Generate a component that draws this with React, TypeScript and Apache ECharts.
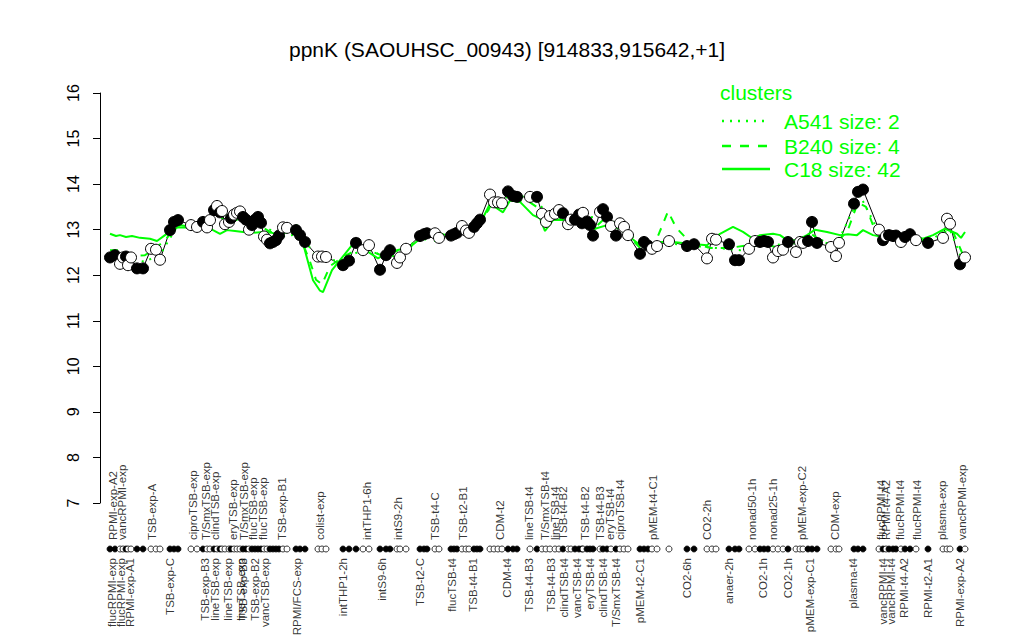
import React, { useEffect, useRef } from "react";
import * as echarts from "echarts";

const FONT = "'Liberation Sans', Arial, Helvetica, sans-serif";
const GREEN = "#00FF00";

const titleText = "ppnK (SAOUHSC_00943) [914833,915642,+1]";
const legendTitle = "clusters";
const legendNames = ["A541 size: 2", "B240 size: 4", "C18 size: 42"];

// sample positions along the x axis, expression values, filled (1) / open (0)
const samplePos = [
  10, 15, 20, 23, 26, 28, 31, 37, 43,
  51, 56, 60,
  70, 74, 78,
  91, 97,
  103, 107, 110, 114, 117, 120, 122, 125, 129, 131, 134, 137, 140, 143, 146, 149, 152, 155, 158, 161, 164, 167, 170, 173, 176, 179, 183, 187,
  196, 200, 205,
  218, 222, 226,
  243, 249, 256, 263, 269,
  280, 286, 290,
  297, 300, 306,
  320, 324, 327,
  335, 339,
  351, 354, 357,
  362, 366, 369,
  374, 377, 380,
  390, 394, 398, 402,
  408, 413, 417,
  430, 437,
  442, 446, 450, 455, 459, 463, 468, 471, 475, 479, 482, 483, 487, 490, 493, 500, 503, 507, 511, 516, 520, 524, 528,
  540, 544, 548, 552, 557,
  569,
  587, 594,
  607, 612, 616,
  629, 635, 639,
  649, 655, 660, 664, 668,
  673, 678, 683, 688,
  696, 700, 703, 708, 712, 717,
  731, 736, 739,
  754, 758, 763,
  779, 783, 786, 789, 793, 796, 801, 805, 810, 816,
  828,
  843, 847, 850,
  860, 865,
];
const sampleVal = [
  12.39, 12.44, 12.25, 12.39, 12.41, 12.22, 12.39, 12.15, 12.15,
  12.58, 12.56, 12.34,
  12.99, 13.17, 13.21,
  13.10, 13.06,
  13.17, 13.05, 13.21, 13.43, 13.52, 13.38, 13.41, 13.12, 13.17, 13.25, 13.33, 13.37, 13.40, 13.28, 13.22, 13.00, 13.10, 13.22, 13.28, 13.15, 12.85, 12.78, 12.70, 12.73, 12.77, 12.87, 13.05, 13.04,
  12.99, 12.88, 12.73,
  12.41, 12.41, 12.40,
  12.22, 12.32, 12.71, 12.55, 12.66,
  12.12, 12.44, 12.55,
  12.27, 12.39, 12.58,
  12.86, 12.90, 12.92,
  12.92, 12.82,
  12.87, 12.90, 12.93,
  13.08, 12.98, 12.93,
  13.06, 13.14, 13.22,
  13.77, 13.60, 13.60, 13.58,
  13.84, 13.74, 13.72,
  13.72, 13.72,
  13.35, 13.17, 13.30, 13.35, 13.43, 13.36, 13.12, 13.22, 13.22, 13.33, 13.14, 13.37, 13.18, 13.10, 12.87, 13.39, 13.45, 13.28, 13.08, 12.87, 13.14, 13.06, 12.88,
  12.47, 12.73, 12.65, 12.58, 12.64,
  12.75,
  12.64, 12.68,
  12.37, 12.80, 12.78,
  12.68, 12.33, 12.33,
  12.58, 12.75, 12.73, 12.75, 12.73,
  12.39, 12.53, 12.56, 12.73,
  12.51, 12.73, 12.71, 12.75, 13.17, 12.71,
  12.62, 12.42, 12.71,
  13.57, 13.83, 13.88,
  13.00, 12.77, 12.86, 12.88, 12.86, 12.87, 12.73, 12.84, 12.90, 12.77,
  12.71,
  12.82, 13.24, 13.13,
  12.24, 12.39,
];
const sampleFilled = [
  1, 1, 0, 0, 1, 0, 0, 1, 1,
  0, 0, 0,
  1, 1, 1,
  0, 0,
  1, 0, 0, 1, 0, 1, 0, 0, 0, 1, 0, 0, 0, 1, 1, 0, 1, 1, 1, 1, 0, 0, 1, 1, 1, 1, 0, 0,
  1, 1, 1,
  0, 0, 0,
  1, 1, 1, 0, 0,
  1, 1, 1,
  0, 0, 0,
  1, 1, 1,
  0, 0,
  1, 1, 1,
  0, 0, 0,
  1, 1, 1,
  0, 0, 0, 0,
  1, 1, 1,
  0, 1,
  0, 0, 0, 0, 0, 1, 0, 0, 1, 1, 1, 0, 1, 1, 1, 0, 1, 1, 0, 1, 0, 0, 0,
  1, 1, 1, 0, 0,
  0,
  1, 1,
  0, 0, 0,
  1, 1, 1,
  0, 0, 1, 1, 1,
  0, 0, 0, 1,
  0, 0, 0, 1, 1, 1,
  0, 0, 0,
  1, 1, 1,
  0, 1, 0, 1, 1, 1, 0, 1, 1, 0,
  1,
  0, 0, 0,
  1, 0,
];

const topLabels = [
  "RPMI-exp-A2", "vancRPMI-exp", "TSB-exp-A", "ciproTSB-exp", "T/SmxTSB-exp", "clindTSB-exp", "eryTSB-exp",
  "T/SmxTSB-exp", "flucTSB-exp", "flucTSB-exp", "TSB-exp-B1", "colist-exp", "intTHP1-6h", "intS9-2h",
  "TSB-t4-C", "TSB-t2-B1", "CDM-t2", "lineTSB-t4", "T/SmxTSB-t4", "lineTSB-t4", "TSB-t4-B2", "TSB-t4-B2",
  "TSB-t4-B3", "eryTSB-t4", "ciproTSB-t4", "pMEM-t4-C1", "CO2-2h", "nonad50-1h", "nonad25-1h", "pMEM-exp-C2",
  "CDM-exp", "flucRPMI-t4", "RPMI-t4-A2", "flucRPMI-t4", "flucRPMI-t4", "plasma-exp", "vancRPMI-exp",
];
const topLabelPos = [
  13, 22, 52, 93, 106, 115, 133,
  144, 153, 163, 182, 220, 267, 298,
  335, 363, 400, 429, 445, 455, 463, 485,
  500, 510, 520, 553, 607, 652, 673, 702,
  735, 781, 786, 800, 817, 842, 862,
];
const bottomLabels = [
  "flucRPMI-exp", "flucRPMI-exp", "RPMI-exp-A1", "TSB-exp-C", "TSB-exp-B3", "lineTSB-exp", "lineTSB-exp",
  "lineTSB-exp", "TSB-exp-B3", "TSB-exp-B2", "vancTSB-exp", "RPMI/FCS-exp", "intTHP1-2h", "intS9-6h",
  "TSB-t2-C", "flucTSB-t4", "TSB-t4-B1", "CDM-t4", "TSB-t4-B3", "TSB-t4-B3", "clindTSB-t4", "vancTSB-t4",
  "eryTSB-t4", "clindTSB-t4", "T/SmxTSB-t4", "pMEM-t2-C1", "CO2-6h", "anaer-2h", "CO2-1h", "CO2-1h",
  "pMEM-exp-C1", "plasma-t4", "vancRPMI-t4", "vancRPMI-t4", "RPMI-t4-A2", "RPMI-t2-A1", "RPMI-exp-A2",
];
const bottomLabelPos = [
  12, 21, 30, 70, 105, 115, 128,
  141, 143, 155, 165, 197, 243, 282,
  320, 352, 373, 407, 429, 451, 464, 477,
  490, 503, 516, 540, 587, 629, 663, 688,
  710, 753, 783, 791, 804, 828, 860,
];

// cluster profiles
const solidPos = [
  10, 16, 20, 26, 32, 40, 50, 57, 65, 72, 78, 86, 95, 105, 113, 120, 127, 135, 143, 152, 163, 172, 180, 190, 197,
  203, 213, 220, 223, 232, 240, 253, 262, 278, 288, 297, 310, 320, 335, 346, 353, 367, 380, 390, 403, 410, 420,
  433, 440, 445, 453, 467, 480, 495, 507, 520, 532, 540, 552, 560, 573, 590, 607, 620, 633, 643, 653, 660, 673,
  680, 687, 697, 707, 715, 727, 740, 748, 757, 763, 773, 783, 797, 810, 823, 833, 845, 857, 861, 865,
];
const solidVal = [
  12.91, 12.86, 12.88, 12.84, 12.86, 12.82, 12.8, 12.75, 12.88, 12.99, 13.05, 13.05, 13.08, 13.1, 12.99, 12.91, 12.99, 12.97, 12.95, 12.93, 12.95, 12.93, 12.88, 12.99, 13.1,
  12.7, 11.89, 11.66, 11.63, 12.11, 12.33, 12.69, 12.6, 12.37, 12.5, 12.55, 12.62, 12.8, 12.95, 12.88, 12.91, 12.99, 13.13, 13.57, 13.38, 13.64, 13.61,
  13.32, 13.25, 12.97, 13.21, 13.21, 13.13, 13.02, 13.1, 13.02, 12.8, 12.66, 12.68, 12.73, 12.73, 12.69, 12.66, 12.91, 13.06, 12.95, 12.8, 12.88, 12.91,
  12.88, 12.77, 12.77, 12.88, 13.0, 12.95, 12.88, 12.9, 12.88, 12.99, 12.88, 12.84, 12.91, 12.88, 12.8, 12.88, 13.02, 12.91, 12.82, 12.95,
];
const dashedPos = [
  10, 18, 30, 45, 55, 65, 72, 80, 95, 110, 118, 130, 140, 155, 170, 185, 200, 210, 216, 222, 230, 243, 256, 268,
  280, 290, 300, 310, 320, 337, 353, 366, 378, 390, 400, 412, 430, 440, 448, 460, 480, 495, 505, 520, 540, 555,
  568, 576, 590, 610, 630, 645, 660, 680, 700, 712, 720, 735, 748, 758, 766, 773, 785, 800, 815, 828, 845, 852, 865,
];
const dashedVal = [
  12.55, 12.55, 12.42, 12.44, 12.58, 12.77, 12.95, 13.1, 13.05, 13.15, 13.3, 13.15, 13.25, 13.15, 12.95, 12.95, 12.85, 12.3, 11.9, 11.8, 12.2, 12.4, 12.55, 12.55,
  12.45, 12.5, 12.55, 12.62, 12.8, 12.75, 12.8, 12.9, 13.05, 13.5, 13.55, 13.68, 13.6, 13.45, 13.2, 13.3, 13.2, 13.05, 13.25, 13.05, 12.6, 12.7,
  13.4, 13.05, 12.72, 12.6, 12.6, 12.65, 12.7, 12.6, 12.7, 12.9, 12.75, 12.65, 13.0, 13.6, 13.5, 13.1, 12.9, 12.85, 12.85, 12.75, 12.95, 13.0, 12.35,
];
const dottedPos = [
  10, 45, 60, 78, 100, 120, 140, 160, 180, 200, 220, 245, 265, 285, 300, 320, 340, 360, 380, 395, 415, 435, 450,
  480, 505, 525, 545, 570, 590, 620, 640, 665, 690, 712, 735, 760, 780, 810, 830, 848, 863,
];
const dottedVal = [
  12.4, 12.3, 12.45, 13.1, 13.1, 13.35, 13.3, 13.15, 12.85, 12.9, 12.3, 12.35, 12.6, 12.4, 12.45, 12.85, 12.85, 12.95, 13.15, 13.65, 13.75, 13.7, 13.25,
  13.25, 13.3, 13.0, 12.6, 12.7, 12.65, 12.59, 12.55, 12.7, 12.65, 12.9, 12.6, 13.75, 12.9, 12.85, 12.72, 13.1, 12.3,
];

const pairs = (xs: number[], ys: number[]) => xs.map((x, i) => [x, ys[i]]);

export default function App() {
  const ref = useRef<HTMLDivElement>(null);
  useEffect(() => {
    if (!ref.current) return;
    const chart = echarts.init(ref.current, null, { renderer: "svg" });
    const X_MIN = -7;
    const X_MAX = 890;
    const DOT_ROW = 44;
    const TOP_ANCHOR = 35;
    const BOTTOM_ANCHOR = 53;
    const pointData = samplePos.map((x, i) => ({
      value: [x, sampleVal[i]],
      itemStyle: { color: sampleFilled[i] ? "#000" : "#fff", borderColor: "#000", borderWidth: 1, opacity: 1 },
    }));
    const dotData = samplePos.map((x, i) => ({
      value: [x, DOT_ROW],
      itemStyle: { color: sampleFilled[i] ? "#000" : "#fff", borderColor: "#000", borderWidth: 0.8, opacity: 1 },
    }));
    const labelStyle = {
      show: true,
      formatter: "{b}",
      rotate: 90,
      position: "inside",
      verticalAlign: "middle",
      fontSize: 11.5,
      fontFamily: FONT,
      color: "#000",
    };
    chart.setOption({
      animation: false,
      backgroundColor: "#fff",
      textStyle: { fontFamily: FONT },
      title: {
        text: titleText,
        left: 284,
        top: 34,
        textStyle: { fontSize: 21, fontWeight: "normal", color: "#000", fontFamily: FONT },
      },
      grid: [
        { left: 93, top: 93, width: 897, height: 410 },
        { left: 93, top: 505, width: 897, height: 130 },
      ],
      xAxis: [
        { gridIndex: 0, type: "value", min: X_MIN, max: X_MAX, show: false },
        { gridIndex: 1, type: "value", min: X_MIN, max: X_MAX, show: false },
      ],
      yAxis: [
        {
          gridIndex: 0,
          type: "value",
          min: 7,
          max: 16,
          interval: 1,
          axisLine: { show: true, lineStyle: { color: "#000", width: 1 } },
          axisTick: { show: true, length: 7, lineStyle: { color: "#000" } },
          axisLabel: {
            rotate: 90,
            fontSize: 16,
            color: "#000",
            margin: 12,
            align: "center",
            verticalAlign: "bottom",
            fontFamily: FONT,
          },
          splitLine: { show: false },
        },
        { gridIndex: 1, type: "value", min: 0, max: 130, inverse: true, show: false },
      ],
      graphic: [
        {
          type: "text",
          x: 720,
          y: 92,
          style: { text: legendTitle, fill: GREEN, fontSize: 21, fontFamily: FONT, verticalAlign: "middle" },
        },
        {
          type: "line",
          shape: { x1: 722, y1: 121, x2: 770, y2: 121 },
          style: { stroke: GREEN, lineWidth: 2.5, lineDash: [2, 6] },
        },
        {
          type: "line",
          shape: { x1: 722, y1: 146, x2: 770, y2: 146 },
          style: { stroke: GREEN, lineWidth: 2.5, lineDash: [9, 9] },
        },
        {
          type: "line",
          shape: { x1: 722, y1: 169, x2: 770, y2: 169 },
          style: { stroke: GREEN, lineWidth: 2.5 },
        },
        ...legendNames.map((t, i) => ({
          type: "text",
          x: 784,
          y: [121, 146, 169][i],
          style: { text: t, fill: GREEN, fontSize: 21, fontFamily: FONT, verticalAlign: "middle" },
        })),
      ],
      series: [
        {
          type: "line",
          data: pairs(samplePos, sampleVal),
          symbol: "none",
          lineStyle: { color: "#000", width: 1 },
          z: 1,
        },
        {
          type: "line",
          data: pairs(dottedPos, dottedVal),
          symbol: "none",
          lineStyle: { color: GREEN, width: 2, type: [2, 6] },
          z: 2,
        },
        {
          type: "line",
          data: pairs(dashedPos, dashedVal),
          symbol: "none",
          lineStyle: { color: GREEN, width: 2, type: [8, 8] },
          z: 2,
        },
        {
          type: "line",
          data: pairs(solidPos, solidVal),
          symbol: "none",
          lineStyle: { color: GREEN, width: 2 },
          z: 2,
        },
        {
          type: "scatter",
          data: pointData,
          symbol: "circle",
          symbolSize: 11,
          z: 3,
        },
        {
          type: "scatter",
          xAxisIndex: 1,
          yAxisIndex: 1,
          data: dotData,
          symbol: "circle",
          symbolSize: 6,
          z: 3,
        },
        {
          type: "scatter",
          xAxisIndex: 1,
          yAxisIndex: 1,
          data: topLabels.map((n, i) => ({ name: n, value: [topLabelPos[i], TOP_ANCHOR] })),
          symbolSize: 1,
          itemStyle: { color: "rgba(0,0,0,0)" },
          label: { ...labelStyle, align: "left" },
        },
        {
          type: "scatter",
          xAxisIndex: 1,
          yAxisIndex: 1,
          data: bottomLabels.map((n, i) => ({ name: n, value: [bottomLabelPos[i], BOTTOM_ANCHOR] })),
          symbolSize: 1,
          itemStyle: { color: "rgba(0,0,0,0)" },
          label: { ...labelStyle, align: "right" },
        },
      ],
    });
    return () => chart.dispose();
  }, []);
  return <div ref={ref} style={{ width: 1024, height: 640, position: "absolute", left: 0, top: 0 }} />;
}
